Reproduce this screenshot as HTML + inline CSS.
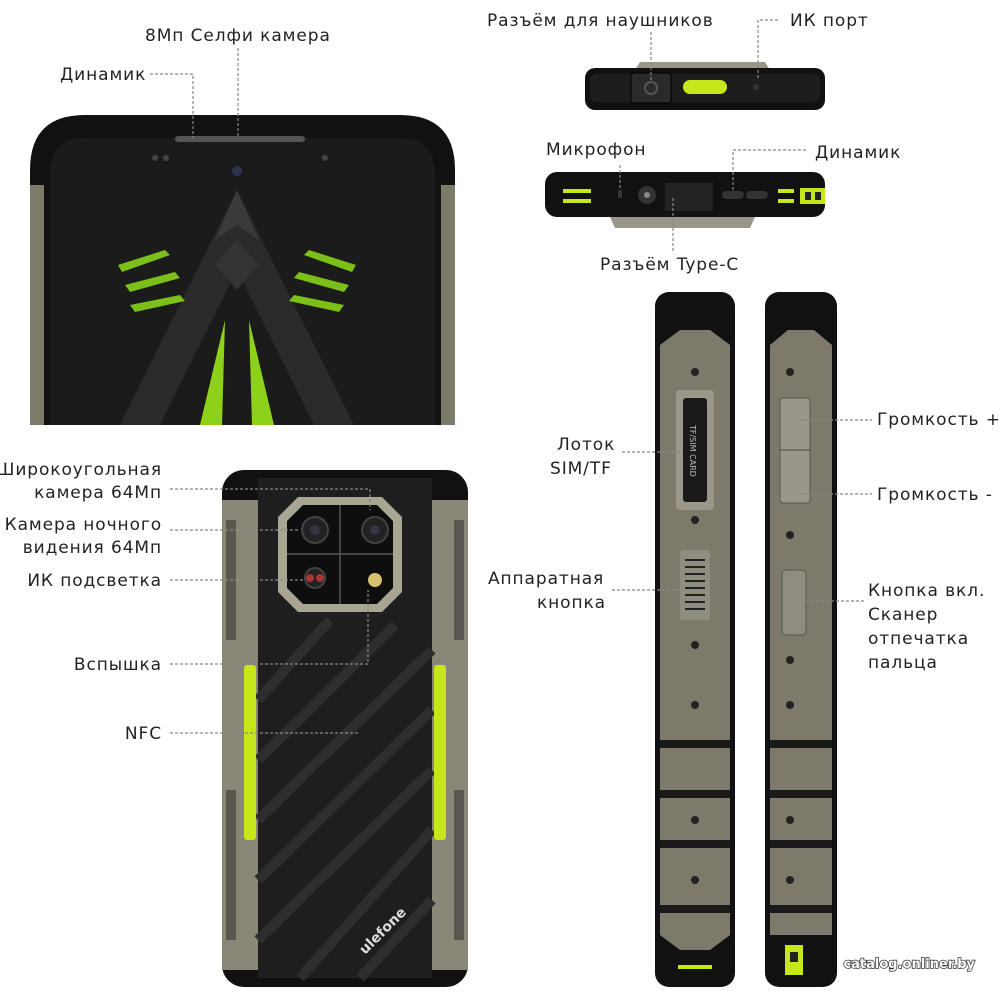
<!DOCTYPE html>
<html><head><meta charset="utf-8"><style>
html,body{margin:0;padding:0;background:#fff;}
svg{display:block}
text{font-family:"DejaVu Sans","Liberation Sans",sans-serif;font-size:17px;fill:#222;letter-spacing:0.9px}
.d{stroke:#888;stroke-width:1.2;stroke-dasharray:3,2;fill:none}
</style></head><body>
<svg width="1000" height="1000" viewBox="0 0 1000 1000">
<!-- FRONT PHONE -->
<path d="M30 425 L30 170 Q30 115 85 115 L400 115 Q455 115 455 170 L455 425 Z" fill="#111"/>
<rect x="30" y="185" width="14" height="240" fill="#7d7a6a"/>
<rect x="441" y="185" width="14" height="240" fill="#7d7a6a"/>
<path d="M50 425 L50 175 Q50 138 85 138 L400 138 Q435 138 435 175 L435 425 Z" fill="#1b1b1b"/>
<rect x="175" y="136" width="130" height="6" rx="3" fill="#555"/>
<circle cx="237" cy="171" r="5" fill="#2a3550"/>
<circle cx="155" cy="158" r="3" fill="#444"/><circle cx="166" cy="158" r="3" fill="#444"/>
<circle cx="325" cy="158" r="3" fill="#444"/>
<path d="M237 190 L120 425 L160 425 L237 270 L314 425 L354 425 Z" fill="#2a2a2a"/>
<path d="M237 240 L215 265 L237 290 L259 265 Z" fill="#333"/>
<path d="M225 320 L200 425 L222 425 Z" fill="#8ed11a"/>
<path d="M249 320 L274 425 L252 425 Z" fill="#8ed11a"/>
<path d="M118 265 L165 250 L170 255 L122 272 Z" fill="#7cbf18"/>
<path d="M125 285 L175 272 L180 278 L130 292 Z" fill="#7cbf18"/>
<path d="M130 305 L180 295 L185 301 L135 312 Z" fill="#7cbf18"/>
<path d="M356 265 L309 250 L304 255 L352 272 Z" fill="#7cbf18"/>
<path d="M349 285 L299 272 L294 278 L344 292 Z" fill="#7cbf18"/>
<path d="M344 305 L294 295 L289 301 L339 312 Z" fill="#7cbf18"/>
<path d="M237 190 L215 240 L237 225 L259 240 Z" fill="#3a3a3a"/>
<text x="145" y="41">8Мп Селфи камера</text>
<path class="d" d="M238 48 V136"/>
<text x="60" y="80">Динамик</text>
<path class="d" d="M150 74 H193 V138"/>

<!-- TOP EDGE VIEW -->
<path d="M640 62 L765 62 L770 70 L635 70 Z" fill="#9a978a"/>
<rect x="585" y="68" width="240" height="42" rx="10" fill="#111"/>
<rect x="590" y="74" width="230" height="28" rx="6" fill="#1d1d1d"/>
<rect x="631" y="73" width="40" height="30" rx="3" fill="#2a2a2a" stroke="#000"/>
<circle cx="651" cy="88" r="6" fill="none" stroke="#555" stroke-width="2"/>
<rect x="683" y="80" width="44" height="14" rx="7" fill="#c6e81a"/>
<circle cx="756" cy="87" r="3" fill="#333"/>
<text x="487" y="26">Разъём для наушников</text>
<path class="d" d="M651 32 V80"/>
<text x="790" y="26">ИК порт</text>
<path class="d" d="M778 20 H758 V80"/>

<!-- BOTTOM EDGE VIEW -->
<rect x="545" y="172" width="280" height="45" rx="12" fill="#111"/>
<path d="M610 217 L755 217 L750 228 L615 228 Z" fill="#9a978a"/>
<rect x="563" y="189" width="28" height="4" fill="#c6e81a"/><rect x="563" y="199" width="28" height="4" fill="#c6e81a"/>
<rect x="778" y="189" width="16" height="4" fill="#c6e81a"/><rect x="778" y="199" width="16" height="4" fill="#c6e81a"/>
<rect x="800" y="188" width="25" height="16" fill="#c6e81a"/>
<rect x="805" y="192" width="6" height="8" fill="#222"/><rect x="815" y="192" width="6" height="8" fill="#222"/>
<rect x="618" y="190" width="4" height="8" fill="#333"/>
<circle cx="647" cy="195" r="9" fill="#333"/><circle cx="647" cy="195" r="3" fill="#888"/>
<rect x="665" y="183" width="48" height="28" fill="#222"/>
<rect x="722" y="191" width="22" height="8" rx="4" fill="#333"/><rect x="746" y="191" width="22" height="8" rx="4" fill="#333"/>
<text x="546" y="155">Микрофон</text>
<path class="d" d="M620 165 V190"/>
<text x="815" y="158">Динамик</text>
<path class="d" d="M806 150 H733 V190"/>
<text x="600" y="270">Разъём Type-C</text>
<path class="d" d="M673 198 V252"/>

<!-- SIDE VIEW LEFT -->
<rect x="655" y="292" width="80" height="695" rx="14" fill="#111"/>
<rect x="660" y="345" width="70" height="590" fill="#7d7a6c"/>
<path d="M660 345 L680 330 L710 330 L730 345 Z" fill="#7d7a6c"/>
<path d="M660 935 L680 950 L710 950 L730 935 Z" fill="#7d7a6c"/>
<rect x="676" y="390" width="38" height="120" rx="4" fill="#9a978a"/>
<rect x="683" y="398" width="24" height="104" rx="3" fill="#1a1a1a"/>
<text x="0" y="0" transform="translate(690 425) rotate(90)" style="font-size:8px;fill:#bbb;letter-spacing:0">TF/SIM CARD</text>
<rect x="680" y="550" width="30" height="70" rx="3" fill="#8f8c80"/>
<g stroke="#222" stroke-width="2"><path d="M685 560H705M685 567H705M685 574H705M685 581H705M685 588H705M685 595H705M685 602H705M685 609H705"/></g>
<g fill="#222"><circle cx="695" cy="372" r="4"/><circle cx="695" cy="520" r="4"/><circle cx="695" cy="645" r="4"/><circle cx="695" cy="705" r="4"/><circle cx="695" cy="820" r="4"/><circle cx="695" cy="880" r="4"/></g>
<g fill="#1a1a1a"><rect x="660" y="740" width="70" height="8"/><rect x="660" y="790" width="70" height="8"/><rect x="660" y="840" width="70" height="8"/><rect x="660" y="905" width="70" height="8"/></g>
<rect x="678" y="965" width="34" height="4" fill="#c6e81a"/>
<text x="557" y="450">Лоток</text>
<text x="550" y="474">SIM/TF</text>
<path class="d" d="M622 452 H683"/>
<text x="488" y="584">Аппаратная</text>
<text x="537" y="608">кнопка</text>
<path class="d" d="M612 590 H683"/>

<!-- SIDE VIEW RIGHT -->
<rect x="765" y="292" width="72" height="695" rx="14" fill="#111"/>
<rect x="770" y="345" width="62" height="590" fill="#7d7a6c"/>
<path d="M770 345 L788 330 L814 330 L832 345 Z" fill="#7d7a6c"/>
<rect x="780" y="398" width="30" height="105" rx="3" fill="#9a978a" stroke="#555"/>
<path d="M780 450 H810" stroke="#444"/>
<rect x="782" y="570" width="24" height="65" rx="4" fill="#8f8c80" stroke="#555"/>
<g fill="#222"><circle cx="790" cy="372" r="4"/><circle cx="790" cy="535" r="4"/><circle cx="790" cy="660" r="4"/><circle cx="790" cy="705" r="4"/><circle cx="790" cy="820" r="4"/><circle cx="790" cy="880" r="4"/></g>
<g fill="#1a1a1a"><rect x="770" y="740" width="62" height="8"/><rect x="770" y="790" width="62" height="8"/><rect x="770" y="840" width="62" height="8"/><rect x="770" y="905" width="62" height="8"/></g>
<rect x="785" y="945" width="18" height="30" fill="#c6e81a"/><rect x="790" y="952" width="8" height="10" fill="#222"/>
<text x="877" y="425">Громкость +</text>
<path class="d" d="M800 420 H872"/>
<text x="877" y="500">Громкость -</text>
<path class="d" d="M800 494 H872"/>
<text x="868" y="596">Кнопка вкл.</text>
<text x="868" y="620">Сканер</text>
<text x="868" y="644">отпечатка</text>
<text x="868" y="668">пальца</text>
<path class="d" d="M806 601 H864"/>

<!-- BACK PHONE -->
<rect x="222" y="470" width="246" height="517" rx="22" fill="#111"/>
<rect x="222" y="500" width="36" height="470" fill="#8a8778"/>
<rect x="432" y="500" width="36" height="470" fill="#8a8778"/>
<rect x="258" y="478" width="174" height="500" fill="#1e1e1e"/>
<g stroke="#2e2e2e" stroke-width="10">
<path d="M258 700 L330 620"/><path d="M258 760 L395 625"/><path d="M258 820 L432 650"/><path d="M258 880 L432 710"/><path d="M258 940 L432 770"/><path d="M300 978 L432 830"/><path d="M360 978 L432 900"/>
</g>
<rect x="244" y="665" width="12" height="175" rx="3" fill="#c6e81a"/>
<rect x="434" y="665" width="12" height="175" rx="3" fill="#c6e81a"/>
<g fill="#5a584e"><rect x="226" y="520" width="10" height="120"/><rect x="454" y="520" width="10" height="120"/><rect x="226" y="790" width="10" height="150"/><rect x="454" y="790" width="10" height="150"/></g>
<path d="M298 497 L382 497 L402 517 L402 592 L382 612 L298 612 L278 592 L278 517 Z" fill="#a8a592"/>
<path d="M303 505 L377 505 L393 521 L393 588 L377 604 L303 604 L287 588 L287 521 Z" fill="#0e0e0e"/>
<path d="M340 505V604M287 554H393" stroke="#555" stroke-width="1.5"/>
<circle cx="315" cy="530" r="13" fill="#222" stroke="#444" stroke-width="2"/><circle cx="315" cy="530" r="5" fill="#334"/>
<circle cx="375" cy="530" r="13" fill="#222" stroke="#444" stroke-width="2"/><circle cx="375" cy="530" r="5" fill="#334"/>
<circle cx="315" cy="578" r="10" fill="#222" stroke="#444" stroke-width="2"/><circle cx="310" cy="578" r="4" fill="#a33"/><circle cx="320" cy="578" r="4" fill="#a33"/>
<circle cx="375" cy="580" r="7" fill="#d8c070"/>
<text x="0" y="0" transform="translate(365 955) rotate(-45)" style="font-size:14px;fill:#ddd;font-weight:bold;letter-spacing:0">ulefone</text>
<text x="162" y="475" text-anchor="end">Широкоугольная</text>
<text x="162" y="498" text-anchor="end">камера 64Мп</text>
<path class="d" d="M170 489 H370 V510"/>
<text x="162" y="530" text-anchor="end">Камера ночного</text>
<text x="162" y="553" text-anchor="end">видения 64Мп</text>
<path class="d" d="M170 530 H300"/>
<text x="162" y="586" text-anchor="end">ИК подсветка</text>
<path class="d" d="M170 580 H305"/>
<text x="162" y="670" text-anchor="end">Вспышка</text>
<path class="d" d="M170 664 H368 V590"/>
<text x="162" y="739" text-anchor="end">NFC</text>
<path class="d" d="M170 733 H360"/>

<text x="975" y="968" text-anchor="end" style="font-size:13px;fill:#fff;stroke:#333;stroke-width:1.5;paint-order:stroke;letter-spacing:0;font-weight:bold">catalog.onliner.by</text>
</svg>
</body></html>
